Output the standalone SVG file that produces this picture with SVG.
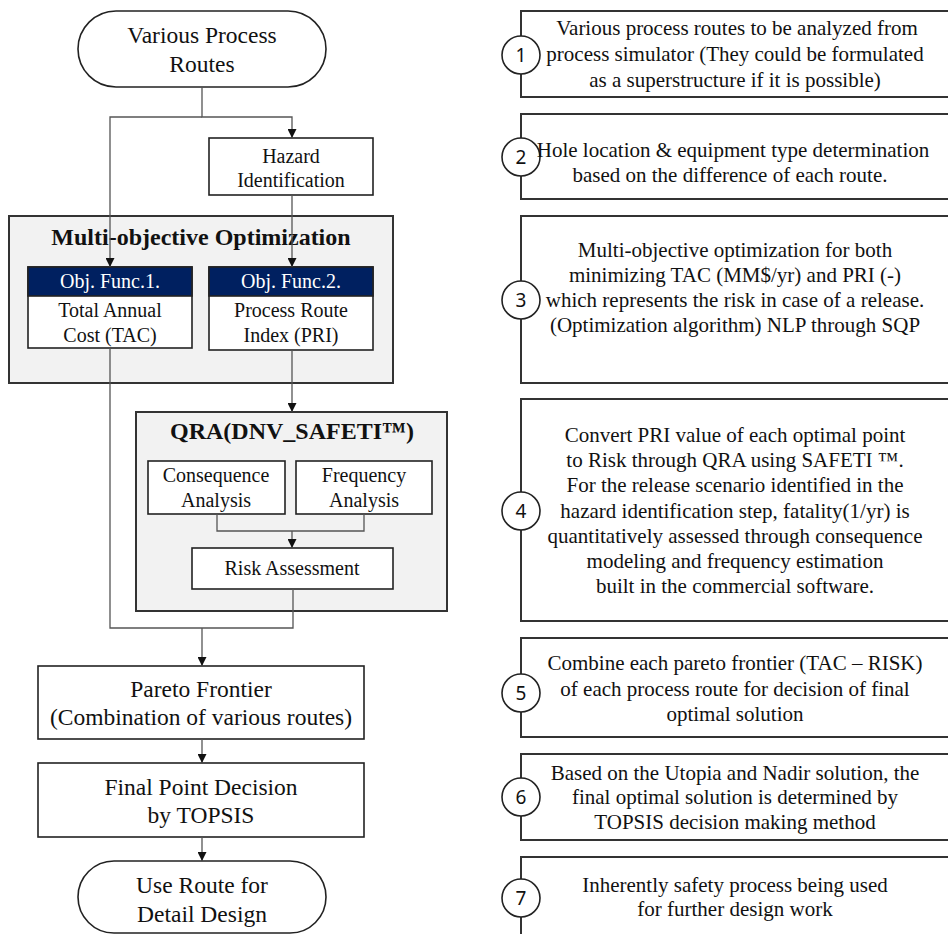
<svg xmlns="http://www.w3.org/2000/svg" width="948" height="934" viewBox="0 0 948 934">
<style>
  .t { font-family: "Liberation Serif", "Times New Roman", serif; fill: #111; text-anchor: middle; }
  .big { font-size: 23.5px; }
  .mid { font-size: 20px; }
  .rt { font-size: 21px; }
  .bold { font-weight: bold; font-size: 24px; }
  .wh { fill: #fff; }
  .box { fill: #fff; stroke: #222; stroke-width: 1.6; }
  .grp { fill: #f2f2f2; stroke: #333; stroke-width: 2; }
  .rbox { fill: #fff; stroke: #333; stroke-width: 2; }
  .hdr { fill: #002060; stroke: #222; stroke-width: 1.6; }
  .circ { fill: #fff; stroke: #222; stroke-width: 1.6; }
  .num { font-family: "Noto Sans", "Liberation Sans", sans-serif; font-size: 19px; fill: #111; text-anchor: middle; }
  .con { fill: none; stroke: #555; stroke-width: 1.3; }
</style>
<defs>
  <marker id="arr" markerUnits="userSpaceOnUse" markerWidth="9" markerHeight="9" refX="9" refY="4.5" orient="auto" viewBox="0 0 9 9">
    <path d="M0,0 L9,4.5 L0,9 z" fill="#111"/>
  </marker>
</defs>

<!-- Left flow nodes -->
<g id="start">
  <rect x="78" y="11" width="248" height="76" rx="38" class="box"/>
  <text class="t big" x="202" y="43">Various Process</text>
  <text class="t big" x="202" y="72">Routes</text>
</g>
<g id="hazard">
  <rect x="209" y="138" width="164" height="57" class="box"/>
  <text class="t mid" x="291" y="163">Hazard</text>
  <text class="t mid" x="291" y="187">Identification</text>
</g>
<g id="moo">
  <rect x="9" y="216" width="384" height="167" class="grp"/>
  <text class="t bold" x="201" y="245">Multi-objective Optimization</text>
</g>
<g id="obj1">
  <rect x="28" y="267" width="164" height="81" class="box"/>
  <rect x="28" y="267" width="164" height="29" class="hdr"/>
  <text class="t mid wh" x="110" y="288">Obj. Func.1.</text>
  <text class="t mid" x="110" y="317">Total Annual</text>
  <text class="t mid" x="110" y="342">Cost (TAC)</text>
</g>
<g id="obj2">
  <rect x="209" y="267" width="164" height="83" class="box"/>
  <rect x="209" y="267" width="164" height="29" class="hdr"/>
  <text class="t mid wh" x="291" y="288">Obj. Func.2.</text>
  <text class="t mid" x="291" y="317">Process Route</text>
  <text class="t mid" x="291" y="342">Index (PRI)</text>
</g>
<g id="qra">
  <rect x="136" y="412" width="311" height="199" class="grp"/>
  <text class="t bold" x="292" y="439">QRA(DNV_SAFETI™)</text>
</g>
<g id="consequence">
  <rect x="148" y="461" width="137" height="53" class="box"/>
  <text class="t mid" x="216" y="482">Consequence</text>
  <text class="t mid" x="216" y="507">Analysis</text>
</g>
<g id="frequency">
  <rect x="296" y="461" width="136" height="53" class="box"/>
  <text class="t mid" x="364" y="482">Frequency</text>
  <text class="t mid" x="364" y="507">Analysis</text>
</g>
<g id="risk">
  <rect x="192" y="548" width="201" height="41" class="box"/>
  <text class="t mid" x="292" y="575">Risk Assessment</text>
</g>
<g id="pareto">
  <rect x="38" y="666" width="326" height="73" class="box"/>
  <text class="t big" x="201" y="697">Pareto Frontier</text>
  <text class="t big" x="201" y="725">(Combination of various routes)</text>
</g>
<g id="final">
  <rect x="38" y="763" width="326" height="74" class="box"/>
  <text class="t big" x="201" y="795">Final Point Decision</text>
  <text class="t big" x="201" y="823">by TOPSIS</text>
</g>
<g id="end">
  <rect x="78" y="861" width="248" height="72" rx="36" class="box"/>
  <text class="t big" x="202" y="893">Use Route for</text>
  <text class="t big" x="202" y="922">Detail Design</text>
</g>

<!-- Connectors -->
<g id="connectors">
  <path class="con" d="M202,87 V117 H292 V138" marker-end="url(#arr)"/>
  <path class="con" d="M202,117 H110 V267" marker-end="url(#arr)"/>
  <path class="con" d="M292,195 V267" marker-end="url(#arr)"/>
  <path class="con" d="M292,350 V412" marker-end="url(#arr)"/>
  <path class="con" d="M110,348 V628 H293 V589"/>
  <path class="con" d="M202,628 V666" marker-end="url(#arr)"/>
  <path class="con" d="M217,514 V531 H364 V514"/>
  <path class="con" d="M292,531 V548" marker-end="url(#arr)"/>
  <path class="con" d="M202,739 V763" marker-end="url(#arr)"/>
  <path class="con" d="M202,837 V861" marker-end="url(#arr)"/>
</g>

<!-- Right descriptions -->
<g id="step1">
  <rect x="521" y="11" width="440" height="86" class="rbox"/>
  <circle cx="521" cy="55" r="19" class="circ"/>
  <text class="num" x="521" y="62">1</text>
  <text class="t rt" x="737" y="35">Various process routes to be analyzed from</text>
  <text class="t rt" x="735" y="61">process simulator (They could be formulated</text>
  <text class="t rt" x="735" y="87">as a superstructure  if it is possible)</text>
</g>
<g id="step2">
  <rect x="521" y="114" width="440" height="85" class="rbox"/>
  <circle cx="521" cy="157" r="19" class="circ"/>
  <text class="num" x="521" y="164">2</text>
  <text class="t rt" x="733" y="157">Hole location &amp; equipment type determination</text>
  <text class="t rt" x="730" y="182">based on the difference of each route.</text>
</g>
<g id="step3">
  <rect x="521" y="216" width="440" height="167" class="rbox"/>
  <circle cx="521" cy="300" r="19" class="circ"/>
  <text class="num" x="521" y="307">3</text>
  <text class="t rt" x="735" y="257">Multi-objective optimization for both</text>
  <text class="t rt" x="735" y="282">minimizing TAC (MM$/yr) and PRI (-)</text>
  <text class="t rt" x="735" y="307">which represents the risk in case of a release.</text>
  <text class="t rt" x="735" y="332">(Optimization algorithm) NLP through SQP</text>
</g>
<g id="step4">
  <rect x="521" y="399" width="440" height="222" class="rbox"/>
  <circle cx="521" cy="511" r="19" class="circ"/>
  <text class="num" x="521" y="518">4</text>
  <text class="t rt" x="735" y="442">Convert PRI value of each optimal point</text>
  <text class="t rt" x="735" y="467">to Risk through QRA using SAFETI ™.</text>
  <text class="t rt" x="735" y="492">For the release scenario identified in the</text>
  <text class="t rt" x="735" y="518">hazard identification step, fatality(1/yr) is</text>
  <text class="t rt" x="735" y="543">quantitatively assessed through consequence</text>
  <text class="t rt" x="735" y="568">modeling and frequency estimation</text>
  <text class="t rt" x="735" y="593">built in the commercial software.</text>
</g>
<g id="step5">
  <rect x="521" y="638" width="440" height="99" class="rbox"/>
  <circle cx="521" cy="693" r="19" class="circ"/>
  <text class="num" x="521" y="700">5</text>
  <text class="t rt" x="735" y="670">Combine each pareto frontier (TAC – RISK)</text>
  <text class="t rt" x="735" y="696">of each process route for decision of final</text>
  <text class="t rt" x="735" y="721">optimal solution</text>
</g>
<g id="step6">
  <rect x="521" y="754" width="440" height="86" class="rbox"/>
  <circle cx="521" cy="797" r="19" class="circ"/>
  <text class="num" x="521" y="804">6</text>
  <text class="t rt" x="735" y="780">Based on the Utopia and Nadir solution, the</text>
  <text class="t rt" x="735" y="804">final optimal solution is determined by</text>
  <text class="t rt" x="735" y="829">TOPSIS decision making method</text>
</g>
<g id="step7">
  <rect x="521" y="857" width="440" height="90" class="rbox"/>
  <circle cx="521" cy="898" r="19" class="circ"/>
  <text class="num" x="521" y="905">7</text>
  <text class="t rt" x="735" y="892">Inherently safety process being used</text>
  <text class="t rt" x="735" y="916">for further design work</text>
</g>
</svg>
